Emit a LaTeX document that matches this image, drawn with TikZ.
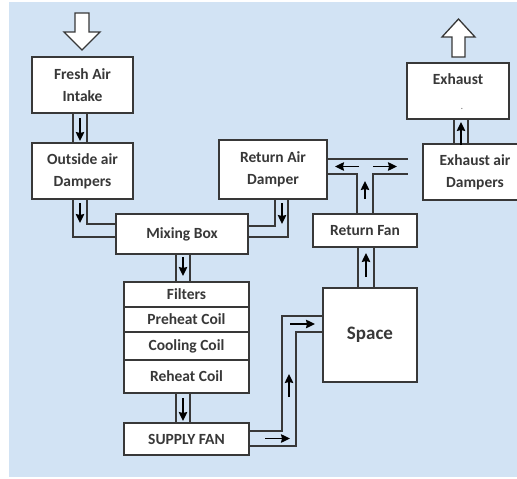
\documentclass[tikz,border=0pt]{standalone}
\usepackage{fontspec}
\setmainfont{Carlito}
\usetikzlibrary{arrows.meta,calc}
\definecolor{bgblue}{HTML}{D2E3F4}
\definecolor{ink}{HTML}{383838}
\tikzset{
  box/.style={draw=ink,line width=1.4pt,fill=white,rectangle,inner sep=0pt,
    font=\bfseries\fontsize{15.5}{22}\selectfont,text=ink,align=center},
  duct/.style={draw=ink,line width=1.2pt},
  flow/.style={draw=black,line width=1.5pt,-{Stealth[length=9pt,width=8.5pt,inset=1pt]}},
  bigarrow/.style={draw=ink,line width=1.3pt,fill=white,line join=miter}
}
\begin{document}
\begin{tikzpicture}[x=1pt,y=-1pt]
\useasboundingbox (0,0) rectangle (517,479);
\clip (0,0) rectangle (517,479);
\fill[bgblue] (9,2) rectangle (517,477);

% boxes
\node[box,minimum width=101pt,minimum height=56pt] (fresh) at (82.5,85) {Fresh Air\\Intake};
\node[box,minimum width=101pt,minimum height=56pt] (outside) at (82.5,171) {Outside air\\Dampers};
\node[box,minimum width=132pt,minimum height=40pt] (mixing) at (182,234) {Mixing Box};
\node[box,minimum width=125pt,minimum height=25pt] (filters) at (186.5,294.5) {Filters};
\node[box,minimum width=125pt,minimum height=25pt] (preheat) at (186.5,319.5) {Preheat Coil};
\node[box,minimum width=125pt,minimum height=28pt] (cooling) at (186.5,346) {Cooling Coil};
\node[box,minimum width=125pt,minimum height=33pt] (reheat) at (186.5,376.5) {Reheat Coil};
\node[box,minimum width=125pt,minimum height=32pt] (supply) at (186.5,439) {SUPPLY FAN};
\node[box,minimum width=94pt,minimum height=94pt,font=\bfseries\fontsize{19}{22}\selectfont] (space) at (370,335) {Space};
\node[box,minimum width=104pt,minimum height=33pt] (retfan) at (365,230.5) {Return Fan};
\node[box,minimum width=108pt,minimum height=59pt] (retdamp) at (273,169.5) {Return Air\\Damper};
\node[box,minimum width=104pt,minimum height=56pt] (exhdamp) at (475,172) {Exhaust air\\Dampers};
\node[box,minimum width=102pt,minimum height=56pt] (exhaust) at (458,91) {};
\node[font=\bfseries\fontsize{15.5}{19}\selectfont,text=ink] (exhtext) at (458,79) {Exhaust};
\node[font=\bfseries\fontsize{8}{8}\selectfont,text=ink!70] (exhdot) at (462,109) {.};

% hollow block arrows
\draw[bigarrow] (75,13) -- (89,13) -- (89,32) -- (100,32) -- (82,50) -- (64,32) -- (75,32) -- cycle;
\draw[bigarrow] (452,57) -- (465,57) -- (465,37) -- (475,37) -- (458.5,19) -- (442,37) -- (452,37) -- cycle;

% ducts
\draw[duct] (fresh.south -| 73,0) -- (outside.north -| 73,0);
\draw[duct] (fresh.south -| 87,0) -- (outside.north -| 87,0);
\draw[flow] (80,118) -- (80,141);

\draw[duct] (outside.south -| 73,0) -- (73,237) -- (mixing.west |- 0,237);
\draw[duct] (outside.south -| 87,0) -- (87,224) -- (mixing.west |- 0,224);
\draw[flow] (80,203) -- (80,223);

\draw[duct] (retdamp.south -| 275,0) -- (275,226) -- (mixing.east |- 0,226);
\draw[duct] (retdamp.south -| 288,0) -- (288,237) -- (mixing.east |- 0,237);
\draw[flow] (282,203) -- (282,224);

\draw[duct] (mixing.south -| 176,0) -- (filters.north -| 176,0);
\draw[duct] (mixing.south -| 190,0) -- (filters.north -| 190,0);
\draw[flow] (183,257) -- (183,276);

\draw[duct] (reheat.south -| 176,0) -- (supply.north -| 176,0);
\draw[duct] (reheat.south -| 190,0) -- (supply.north -| 190,0);
\draw[flow] (183,398) -- (183,421);

\draw[duct] (supply.east |- 0,431) -- (282,431) -- (282,316) -- (space.west |- 0,316);
\draw[duct] (supply.east |- 0,446) -- (296,446) -- (296,332) -- (space.west |- 0,332);
\draw[flow] (265,438.5) -- (290,438.5);
\draw[flow] (289,397) -- (289,374);
\draw[flow] (290,324) -- (315,324);

\draw[duct] (space.north -| 358,0) -- (retfan.south -| 358,0);
\draw[duct] (space.north -| 374,0) -- (retfan.south -| 374,0);
\draw[flow] (366,277) -- (366,253);

\coordinate (tend1) at (408,159);
\coordinate (tend2) at (408,174);
\draw[duct] (retdamp.east |- tend1) -- (tend1);
\draw[duct] (retdamp.east |- tend2) -- (357,174) -- (retfan.north -| 357,0);
\draw[duct] (retfan.north -| 373,0) -- (373,174) -- (tend2);
\draw[flow] (359,166.5) -- (335,166.5);
\draw[flow] (373,166.5) -- (397,166.5);
\draw[flow] (365,199) -- (365,181);

\draw[duct] (exhdamp.north -| 454,0) -- (exhaust.south -| 454,0);
\draw[duct] (exhdamp.north -| 468,0) -- (exhaust.south -| 468,0);
\draw[flow] (461,145) -- (461,122);
\end{tikzpicture}
\end{document}
